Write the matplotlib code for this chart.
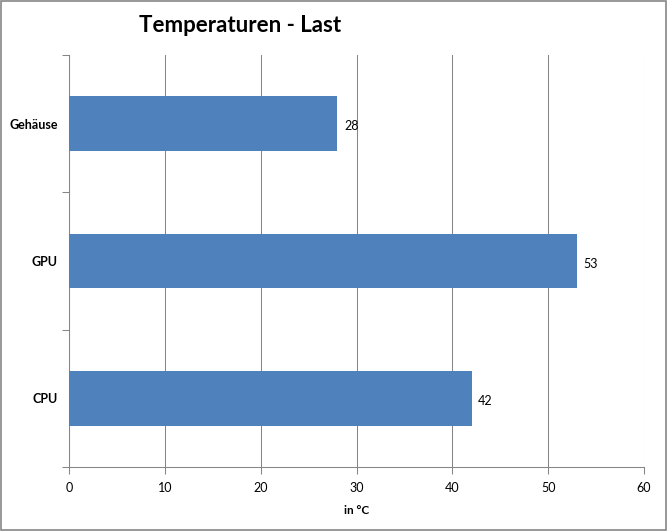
import matplotlib.pyplot as plt
from matplotlib.ticker import FixedLocator

categories = ["CPU", "GPU", "Gehäuse"]
values = [42, 53, 28]
xticks = [0, 10, 20, 30, 40, 50, 60]

plt.rcParams['font.family'] = ['Lato', 'DejaVu Sans']

fig = plt.figure(figsize=(6.67, 5.31), dpi=100)
ax = fig.add_axes([69 / 667, 64 / 531, 575 / 667, 412 / 531])

pos = list(range(len(categories)))
bars = ax.barh(pos, values, height=0.4, color="#4F81BD", zorder=3)
for p, v in zip(pos, values):
    ax.text(v + 0.7, p - 0.02, str(v), va="center", ha="left", fontsize=9)

ax.set_xlim(0, 60)
ax.set_ylim(-0.5, 2.5)
ax.set_xticks(xticks)
ax.set_xticklabels([str(t) for t in xticks], fontsize=9)
ax.xaxis.grid(True, color="#868686", linewidth=0.75, zorder=0)

ax.yaxis.set_major_locator(FixedLocator([-0.5, 0.5, 1.5, 2.5]))
ax.yaxis.set_major_formatter(plt.NullFormatter())
ax.yaxis.set_minor_locator(FixedLocator(pos))
ax.set_yticklabels(categories, minor=True, fontsize=9, fontweight="bold")
ax.tick_params(axis="y", which="minor", length=0, pad=8)
ax.tick_params(axis="y", which="major", length=5, width=0.75, color="#868686")
ax.tick_params(axis="x", length=5, width=0.75, color="#868686", pad=6)

for s in ["top", "right"]:
    ax.spines[s].set_visible(False)
for s in ["left", "bottom"]:
    ax.spines[s].set_color("#868686")
    ax.spines[s].set_linewidth(0.75)

ax.set_xlabel("in °C", fontsize=8.5, fontweight="bold", labelpad=8)
fig.text(240 / 667, 1 - 25 / 531, "Temperaturen - Last", fontsize=16,
         fontweight="bold", ha="center", va="center")

fig.patches.append(plt.Rectangle((0.001, 0.001), 0.997, 0.997, transform=fig.transFigure,
                                 fill=False, edgecolor="#868686", linewidth=1.2))

fig.savefig("out.png", dpi=100)
